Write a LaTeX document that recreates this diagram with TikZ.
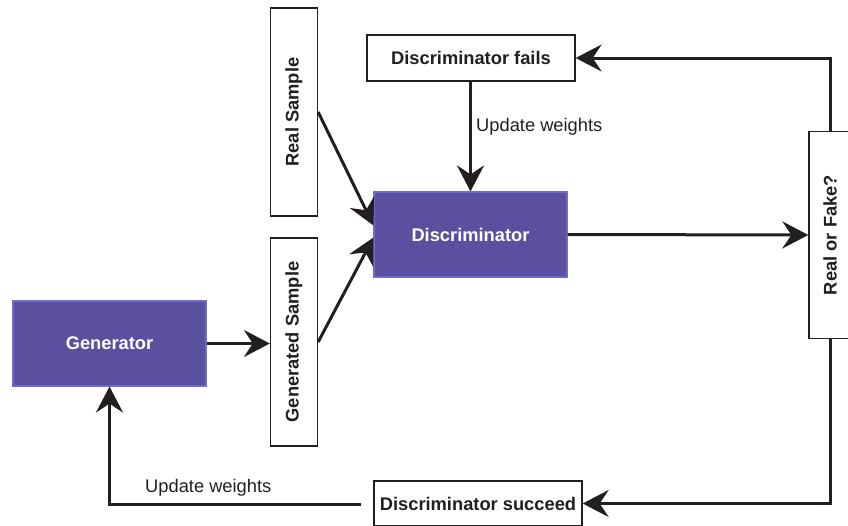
\documentclass[tikz,border=0pt]{standalone}
\usepackage{fontspec}
\setmainfont{Liberation Sans}
\usetikzlibrary{arrows.meta,calc}
\definecolor{gpurple}{RGB}{91,79,160}
\definecolor{gedge}{RGB}{110,110,200}
\definecolor{ink}{RGB}{35,31,32}
\tikzset{
  box/.style={draw=ink, line width=1.3pt, fill=white, rectangle, inner sep=0pt,
    font=\fontsize{18.3}{22}\selectfont\bfseries, text=ink},
  pbox/.style={draw=gedge, line width=1.1pt, fill=gpurple, rectangle, inner sep=0pt,
    font=\fontsize{18.3}{22}\selectfont\bfseries, text=white},
  conn/.style={draw=ink, line width=3pt, -{Stealth[length=26pt,width=27pt,inset=9pt]}},
  lbl/.style={font=\fontsize{18.3}{22}\selectfont, text=ink, inner sep=0pt}
}
\begin{document}
\begin{tikzpicture}[x=1pt,y=-1pt]
\useasboundingbox (0,0) rectangle (848,525);
\clip (0,0) rectangle (848,525);
\node[pbox, minimum width=193pt, minimum height=85pt] (gen) at (109.5,343.5) {Generator};
\node[box, minimum width=47pt, minimum height=208pt] (gs) at (294,342) {\rotatebox{90}{Generated Sample}};
\node[box, minimum width=47pt, minimum height=208pt] (rs) at (294,112) {\rotatebox{90}{Real Sample}};
\node[pbox, minimum width=193pt, minimum height=85pt] (disc) at (470.5,234.5) {Discriminator};
\node[box, minimum width=208pt, minimum height=46pt] (fails) at (471,58) {Discriminator fails};
\node[box, minimum width=42pt, minimum height=207pt] (rof) at (830,235) {\rotatebox{90}{Real or Fake?}};
\node[box, minimum width=208pt, minimum height=45pt] (succ) at (478,503.5) {Discriminator succeed};

\draw[conn] (gen.east) -- (gs.west |- gen.east);
\draw[conn] (rs.east) -- ($(disc.west)+(0,-9)$);
\draw[conn] (gs.east) -- ($(disc.west)+(0,3)$);
\draw[conn] (fails.south -| disc.north) -- (disc.north);
\draw[conn] (disc.east) -- (rof.west);
\draw[conn] (rof.north) -- (rof.north |- fails.east) -- (fails.east);
\draw[conn] (rof.south) -- (rof.south |- succ.east) -- (succ.east);
\coordinate (sw) at ($(succ.west)+(-12,1)$);
\draw[conn] (sw) -| (gen.south);
\node[lbl, anchor=west] (u1) at (476,127) {Update weights};
\node[lbl, anchor=west] (u2) at (145,488) {Update weights};
\end{tikzpicture}
\end{document}
